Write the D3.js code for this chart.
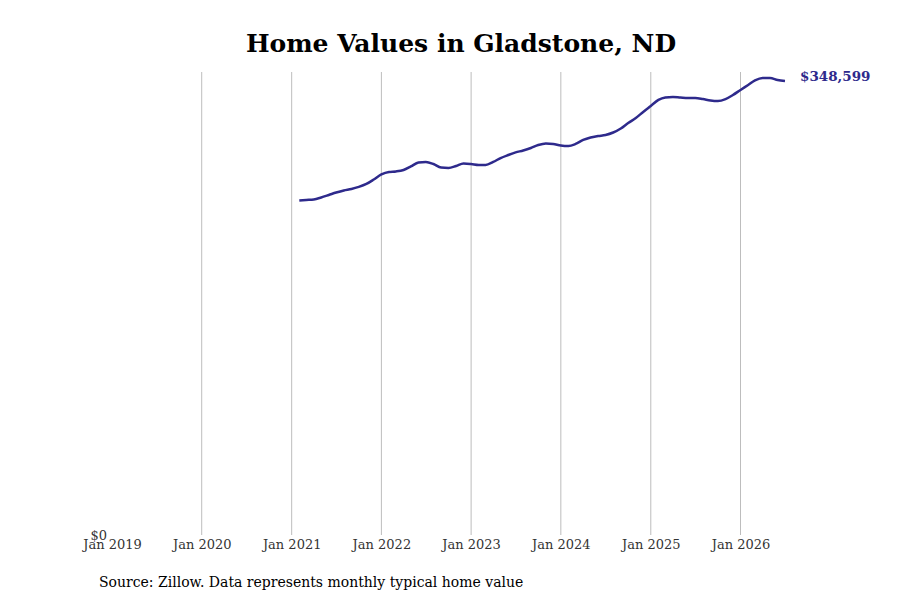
<!DOCTYPE html>
<html lang="en">
<head>
<meta charset="UTF-8">
<title>Home Values in Gladstone, ND</title>
<style>
    body { margin: 0; padding: 0; background: #fff; }
    svg { display: block; font-family: "DejaVu Serif", serif; }
</style>
</head>
<body>
<div id="chart"></div>
<script src="https://cdn.jsdelivr.net/npm/d3@7"></script>
<script>
    // data
    const startMonth = "2021-02";
    const values = [
        256900, 257300, 257700, 259200, 261100, 263000, 264600, 265700, 267300, 269600, 273000,
        276900, 278800, 279200, 280300, 283000, 286100, 286500, 284900, 282200, 281900, 283400, 285300,
        284900, 284200, 284200, 286500, 289500, 291800, 293800, 295300, 297200, 299500, 300700, 300300,
        299100, 298700, 300300, 303400, 305300, 306400, 307200, 309100, 312200, 316400, 320200, 324900,
        329500, 334100, 336000, 336400, 336000, 335600, 335600, 334800, 333700, 333300, 334800, 337900,
        341800, 345600, 349100, 351000, 351000, 349400, 348599
    ];
    const tickYears = [2019, 2020, 2021, 2022, 2023, 2024, 2025, 2026];

    const w = 900, h = 600;
    const plotLeft = 112, plotRight = 785, plotTop = 72, plotBottom = 535;
    const lineColor = "#2e2a8c";

    const parse = d3.timeParse("%Y-%m");
    const start = parse(startMonth);
    const series = values.map((v, i) => ({ date: d3.timeMonth.offset(start, i), value: v }));

    const svg = d3.select("#chart").append("svg")
        .attr("width", w).attr("height", h);

    const x = d3.scaleTime()
        .domain([new Date(2019, 0, 1), series[series.length - 1].date])
        .range([plotLeft, plotRight]);

    const y = d3.scaleLinear()
        .domain([0, d3.max(values) * 1.013])
        .range([plotBottom, plotTop]);

    // title
    svg.append("text")
        .attr("x", 461).attr("y", 52)
        .attr("text-anchor", "middle")
        .style("font-size", "25px").style("font-weight", "bold")
        .text("Home Values in Gladstone, ND");

    // vertical gridlines
    const ticks = tickYears.map(yr => new Date(yr, 0, 1));
    svg.append("g").selectAll("line")
        .data(ticks.slice(1))
        .enter().append("line")
        .attr("x1", d => x(d)).attr("x2", d => x(d))
        .attr("y1", plotTop).attr("y2", plotBottom)
        .attr("stroke", "#bdbdbd").attr("stroke-width", 1);

    // x axis labels
    const xAxis = d3.axisBottom(x)
        .tickValues(ticks)
        .tickFormat(d3.timeFormat("Jan %Y"))
        .tickSize(0).tickPadding(5);
    svg.append("g")
        .attr("transform", `translate(0, ${plotBottom})`)
        .call(xAxis)
        .call(g => g.select(".domain").remove())
        .call(g => g.selectAll("text")
            .style("font-family", "DejaVu Serif, serif")
            .style("font-size", "13px")
            .attr("fill", "#333"));

    // y axis: only $0
    const yAxis = d3.axisLeft(y)
        .tickValues([0])
        .tickFormat(d => "$" + d3.format(",")(d))
        .tickSize(0).tickPadding(5);
    svg.append("g")
        .attr("transform", `translate(${plotLeft}, 0)`)
        .call(yAxis)
        .call(g => g.select(".domain").remove())
        .call(g => g.selectAll("text")
            .style("font-family", "DejaVu Serif, serif")
            .style("font-size", "13px")
            .attr("fill", "#333"));

    // line
    const line = d3.line()
        .x(d => x(d.date))
        .y(d => y(d.value))
        .curve(d3.curveMonotoneX);

    svg.append("path")
        .datum(series)
        .attr("d", line)
        .attr("fill", "none")
        .attr("stroke", lineColor)
        .attr("stroke-width", 2.5);

    // end label
    const last = series[series.length - 1];
    svg.append("text")
        .attr("x", x(last.date) + 15)
        .attr("y", y(last.value) - 5)
        .attr("dy", "0.35em")
        .attr("fill", lineColor)
        .style("font-size", "13.5px").style("font-weight", "bold")
        .text("$" + d3.format(",")(last.value));

    // source
    svg.append("text")
        .attr("x", 99).attr("y", 587)
        .style("font-size", "14px")
        .attr("fill", "#000")
        .text("Source: Zillow. Data represents monthly typical home value");
</script>
</body>
</html>
